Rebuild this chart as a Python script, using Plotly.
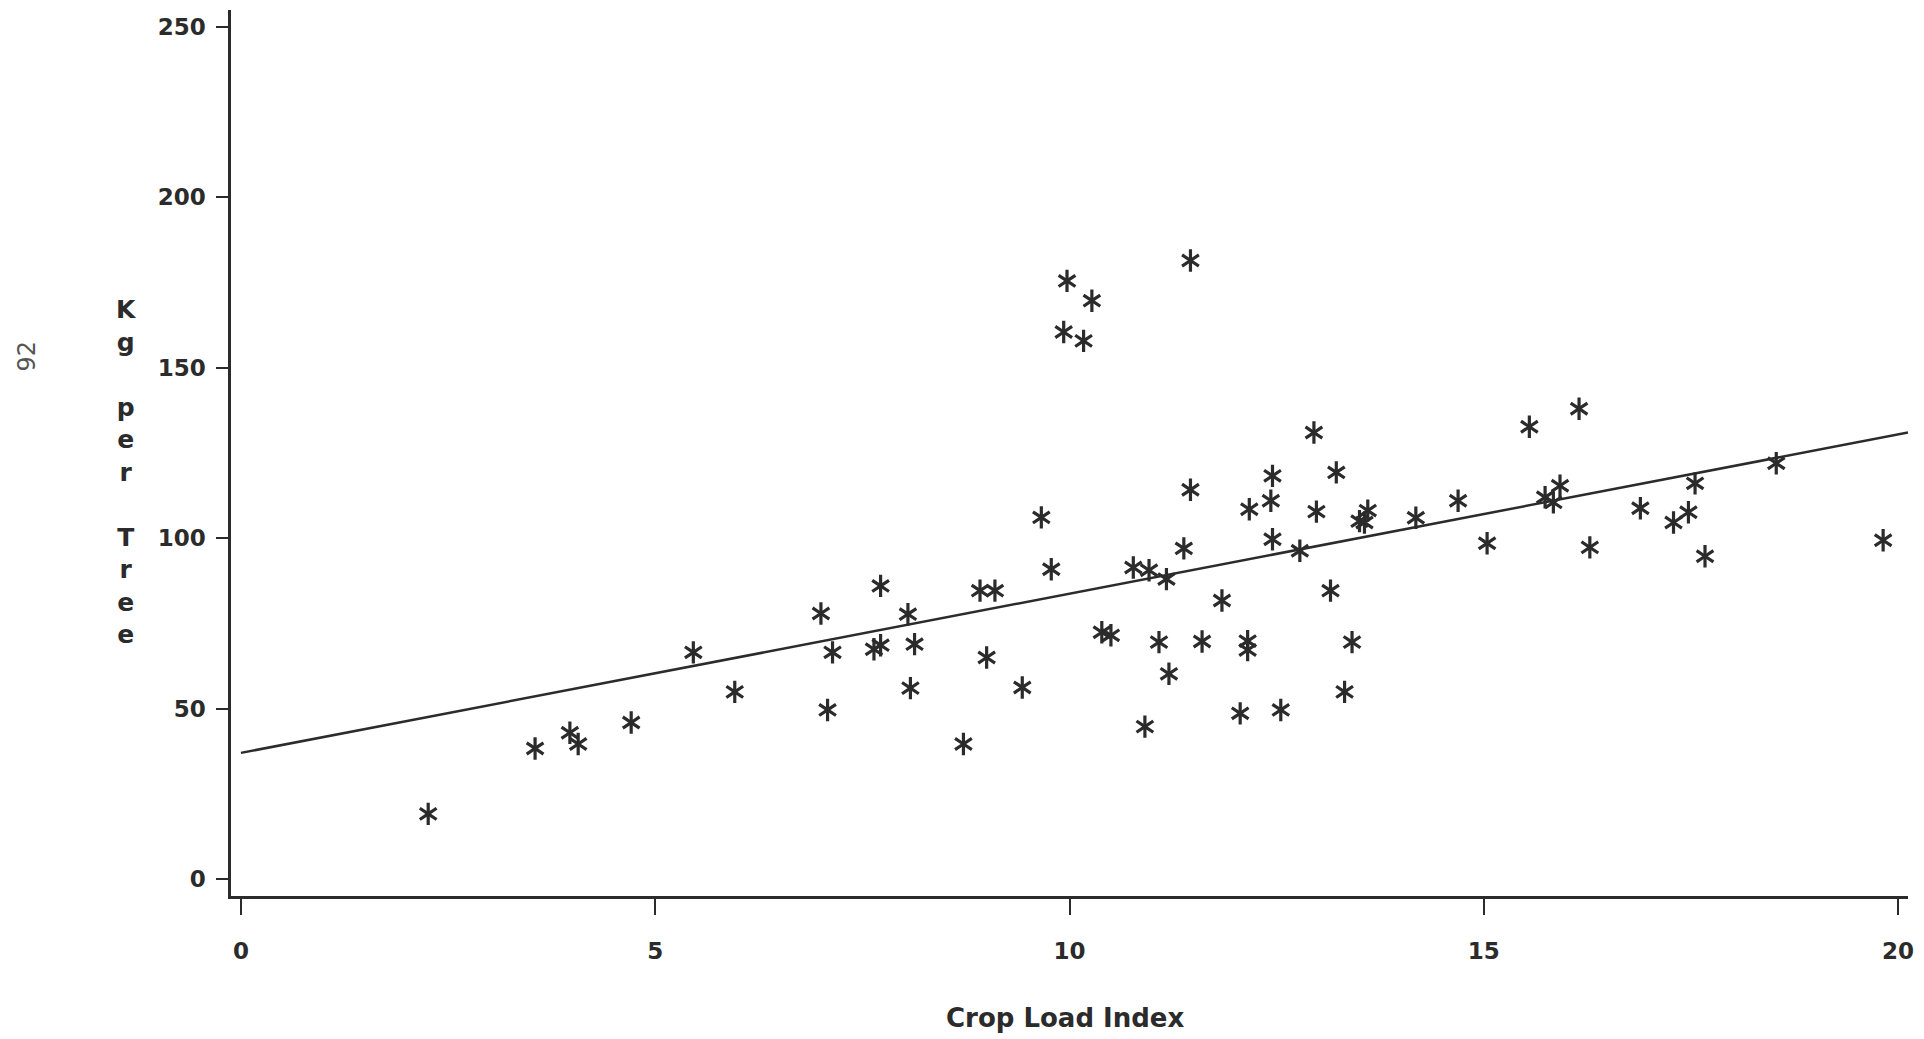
import plotly.graph_objects as go

# Data (Crop Load Index vs Kg per Tree)
crop_load = [2.26, 3.55, 3.97, 4.07, 4.71, 5.46, 5.96, 7.00, 7.08, 7.14,
             7.64, 7.72, 7.72, 8.05, 8.13, 8.08, 8.72, 8.92, 9.10, 9.00,
             9.43, 9.66, 9.78, 9.93, 9.97, 10.17, 10.27, 10.39, 10.50, 10.77,
             10.96, 10.91, 11.08, 11.17, 11.20, 11.38, 11.46, 11.46, 11.60, 11.84,
             12.06, 12.17, 12.15, 12.15, 12.45, 12.43, 12.45, 12.55, 12.78, 12.95,
             12.98, 13.15, 13.22, 13.32, 13.41, 13.50, 13.56, 13.60, 14.18, 14.69,
             15.04, 15.55, 15.74, 15.84, 15.92, 16.15, 16.28, 16.89, 17.29, 17.47,
             17.55, 17.67, 18.53, 19.82]
kg_per_tree = [19.1, 38.3, 42.9, 39.6, 45.9, 66.5, 54.9, 77.9, 49.6, 66.5,
               67.4, 68.6, 86.0, 77.7, 68.9, 56.0, 39.6, 84.6, 84.6, 65.0,
               56.2, 106.1, 90.9, 160.5, 175.5, 157.9, 169.7, 72.4, 71.5, 91.4,
               90.6, 44.7, 69.5, 88.0, 60.2, 97.0, 114.2, 181.5, 69.7, 81.7,
               48.6, 108.5, 69.8, 67.2, 118.3, 111.0, 99.7, 49.6, 96.3, 131.0,
               107.8, 84.6, 119.3, 54.9, 69.5, 105.0, 104.6, 108.1, 106.0, 111.0,
               98.5, 132.7, 112.0, 110.5, 115.4, 138.0, 97.3, 108.8, 104.6, 107.6,
               116.1, 94.7, 122.0, 99.4]

# Fitted regression line end points
fit_x = [0.0, 20.12]
fit_y = [37.0, 131.0]

x_ticks = [0, 5, 10, 15, 20]
y_ticks = [0, 50, 100, 150, 200, 250]

x_title = "Crop Load Index"
y_title = "Kg per Tree"
page_no = "92"

INK = "#2b2b2b"
FONT = "DejaVu Sans"

fig = go.Figure()

fig.add_trace(go.Scatter(
    x=fit_x, y=fit_y, mode="lines",
    line=dict(color=INK, width=2.5), hoverinfo="skip", showlegend=False))

# six-armed asterisk markers: overlay of two Y shapes
for sym in ["y-up-open", "y-down-open"]:
    fig.add_trace(go.Scatter(
        x=crop_load, y=kg_per_tree, mode="markers",
        marker=dict(symbol=sym, size=14, color=INK,
                    line=dict(color=INK, width=3.2)),
        showlegend=False))

fig.update_layout(
    width=1924, height=1039,
    margin=dict(l=231, r=12, t=10, b=143),
    paper_bgcolor="white", plot_bgcolor="white",
    font=dict(family=FONT, color=INK),
    xaxis=dict(range=[-0.12, 20.12], tickvals=x_ticks,
               ticktext=[str(v) for v in x_ticks],
               showgrid=False, zeroline=False, showline=True,
               linecolor=INK, linewidth=2.5, ticks="outside", ticklen=16,
               tickwidth=2, tickcolor=INK, ticklabelstandoff=17,
               tickfont=dict(family=FONT, size=23, color=INK, weight="bold")),
    yaxis=dict(range=[-5, 255], tickvals=y_ticks,
               ticktext=[str(v) for v in y_ticks],
               showgrid=False, zeroline=False, showline=True,
               linecolor=INK, linewidth=2.5, ticks="outside", ticklen=12,
               tickwidth=2, tickcolor=INK, ticklabelstandoff=6,
               tickfont=dict(family=FONT, size=23, color=INK, weight="bold")),
)

fig.add_annotation(
    text=x_title, xref="paper", yref="paper",
    x=(1067 - 231) / 1681, y=-(1018 - 896) / 886,
    xanchor="center", yanchor="middle", showarrow=False,
    font=dict(family=FONT, size=26, color=INK, weight="bold"))

fig.add_annotation(
    text="<br>".join(" " if c == " " else c for c in y_title),
    xref="paper", yref="paper",
    x=(126 - 231) / 1681, y=(896 - 472) / 886,
    xanchor="center", yanchor="middle", showarrow=False, align="center",
    font=dict(family=FONT, size=25, color=INK, weight="bold"))

fig.add_annotation(
    text=page_no, xref="paper", yref="paper",
    x=(27 - 231) / 1681, y=(896 - 356) / 886,
    xanchor="center", yanchor="middle", showarrow=False, textangle=-90,
    font=dict(family=FONT, size=24, color="#555555"))

fig.write_html("out.html")
